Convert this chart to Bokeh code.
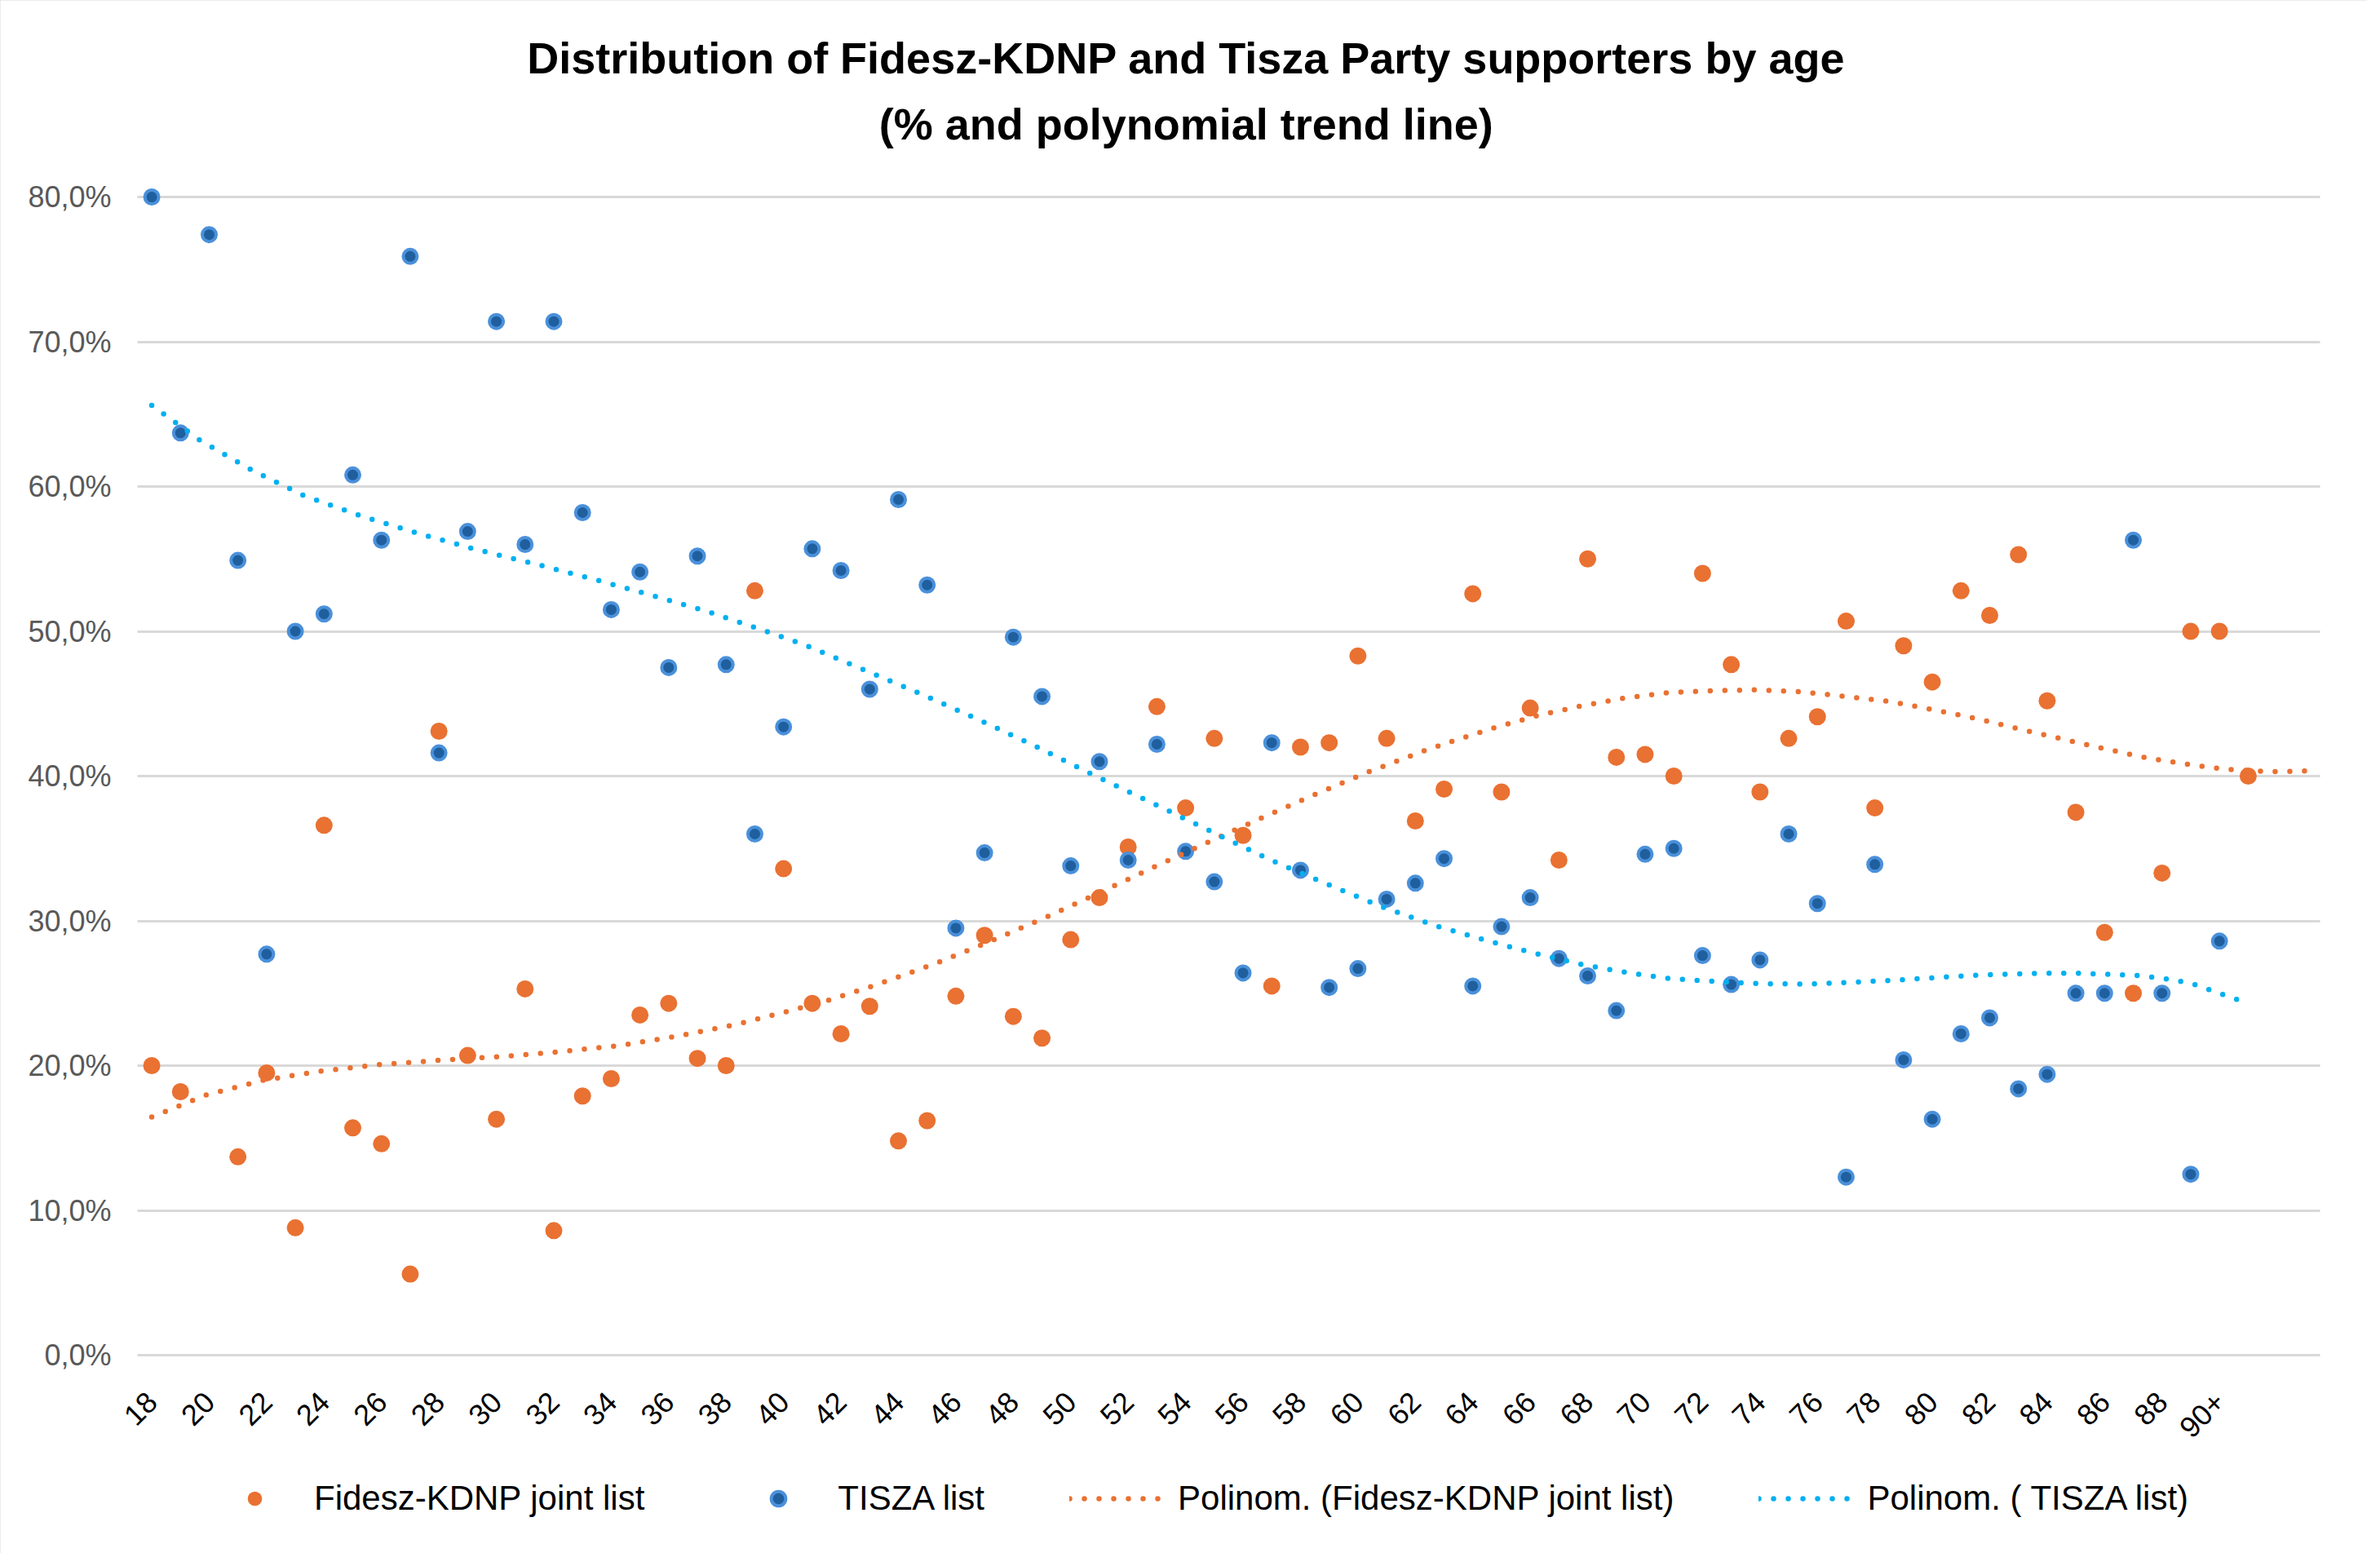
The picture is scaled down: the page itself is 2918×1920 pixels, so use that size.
import math
from bokeh.plotting import figure
from bokeh.models import ColumnDataSource, FixedTicker, Label, Legend, LegendItem, Range1d
from bokeh.embed import file_html
from bokeh.resources import INLINE

NAN = float("nan")

# x categories (index 0 = age 18); index 73 has no label
age_labels = [str(a) for a in range(18, 90)] + ["90+", ""]

# % of supporters
fidesz = [20.0, 18.2, NAN, 13.7, 19.5, 8.8, 36.6, 15.7, 14.6, 5.6,
          43.1, 20.7, 16.3, 25.3, 8.6, 17.9, 19.1, 23.5, 24.3, 20.5,
          20.0, 52.8, 33.6, 24.3, 22.2, 24.1, 14.8, 16.2, 24.8, 29.0,
          23.4, 21.9, 28.7, 31.6, 35.1, 44.8, 37.8, 42.6, 35.9, 25.5,
          42.0, 42.3, 48.3, 42.6, 36.9, 39.1, 52.6, 38.9, 44.7, 34.2,
          55.0, 41.3, 41.5, 40.0, 54.0, 47.7, 38.9, 42.6, 44.1, 50.7,
          37.8, 49.0, 46.5, 52.8, 51.1, 55.3, 45.2, 37.5, 29.2, 25.0,
          33.3, 50.0, 50.0, 40.0]

tisza = [80.0, 63.7, 77.4, 54.9, 27.7, 50.0, 51.2, 60.8, 56.3, 75.9,
         41.6, 56.9, 71.4, 56.0, 71.4, 58.2, 51.5, 54.1, 47.5, 55.2,
         47.7, 36.0, 43.4, 55.7, 54.2, 46.0, 59.1, 53.2, 29.5, 34.7,
         49.6, 45.5, 33.8, 41.0, 34.2, 42.2, 34.8, 32.7, 26.4, 42.3,
         33.5, 25.4, 26.7, 31.5, 32.6, 34.3, 25.5, 29.6, 31.6, 27.4,
         26.2, 23.8, 34.6, 35.0, 27.6, 25.6, 27.3, 36.0, 31.2, 12.3,
         33.9, 20.4, 16.3, 22.2, 23.3, 18.4, 19.4, 25.0, 25.0, 56.3,
         25.0, 12.5, 28.6]

# polynomial trend lines, sampled from the chart
fidesz_trend_x = [0, 1.9, 3.9, 6.0, 8.0, 10.1, 12.2, 14.2, 16.3, 18.3,
                  20.3, 22.3, 23.4, 25.3, 27.3, 29.2, 31.1, 32.9, 34.8, 36.7,
                  38.6, 40.5, 42.4, 44.3, 45.3, 46.8, 48.3, 49.8, 51.3, 52.8,
                  54.4, 55.9, 57.5, 59.0, 60.6, 62.1, 63.6, 65.1, 66.6, 67.6,
                  69.2, 70.7, 72.2, 73.8, 75.0]
fidesz_trend_y = [16.45, 17.97, 19.0, 19.65, 20.08, 20.38, 20.63, 20.96, 21.39, 22.03,
                  22.82, 23.83, 24.41, 25.63, 27.06, 28.59, 30.21, 31.85, 33.62, 35.36,
                  37.07, 38.72, 40.31, 41.74, 42.42, 43.37, 44.2, 44.86, 45.4, 45.76,
                  45.9, 45.96, 45.81, 45.5, 45.13, 44.56, 43.95, 43.22, 42.53, 42.07,
                  41.36, 40.86, 40.47, 40.3, 40.35]

tisza_trend_x = [0, 1.7, 3.5, 5.3, 7.3, 9.3, 11.3, 13.3, 15.3, 17.3,
                 19.3, 21.2, 22.7, 25.0, 26.9, 28.8, 30.7, 32.5, 34.4, 35.3,
                 37.2, 39.0, 40.9, 42.8, 44.8, 46.9, 48.4, 49.9, 51.4, 52.9,
                 54.5, 56.0, 57.6, 59.1, 60.7, 62.2, 63.8, 65.3, 66.9, 69.0,
                 70.0, 71.0, 72.0, 73.0]
tisza_trend_y = [65.61, 63.17, 61.12, 59.37, 57.96, 56.75, 55.65, 54.68, 53.65, 52.55,
                 51.4, 50.14, 49.09, 47.17, 45.58, 43.89, 42.13, 40.36, 38.55, 37.7,
                 35.88, 34.17, 32.56, 31.0, 29.6, 28.41, 27.64, 26.94, 26.42, 26.0,
                 25.81, 25.66, 25.63, 25.75, 25.9, 26.09, 26.27, 26.36, 26.39, 26.25,
                 26.04, 25.69, 25.0, 24.3]

y_ticks = [0, 10, 20, 30, 40, 50, 60, 70, 80]
x_lo, x_hi = -0.5, 75.5   # category band of the plot area

ORANGE = "#E97132"
BLUE_CORE = "#1F5F9E"
BLUE_RING = "#4A90DA"
LIGHT_BLUE = "#00B0F0"
GRID = "#D9D9D9"
FONT = "Liberation Sans"

src_f = ColumnDataSource(dict(x=list(range(len(fidesz))), y=fidesz))
src_t = ColumnDataSource(dict(x=list(range(len(tisza))), y=tisza))

# the frame covers the whole page; the 0..80 % x category band is the plot area,
# the rest holds the title, the axis labels and the legend
p = figure(width=2902, height=1904, x_range=Range1d(-5.27, 77.15), y_range=Range1d(-13.69, 93.58),
           output_backend="svg", toolbar_location=None,
           min_border_left=0, min_border_right=0, min_border_top=0, min_border_bottom=0)

p.outline_line_color = None
p.background_fill_color = "white"
p.border_fill_color = "white"
p.styles = {"outline": "4px solid #D9D9D9", "outline-offset": "-4px"}

for txt, ty in [("Distribution of Fidesz-KDNP and Tisza Party supporters by age", 89.58),
                ("(% and polynomial trend line)", 85.07)]:
    p.add_layout(Label(x=36.02, y=ty, text=txt, text_align="center", text_baseline="middle",
                       text_font=FONT, text_font_size="54px", text_font_style="bold",
                       text_color="#000000"))

# horizontal grid, limited to the plot area
grid = p.ygrid[0]
grid.ticker = FixedTicker(ticks=y_ticks)
if "cross_bounds" in grid.properties():
    grid.cross_bounds = (x_lo, x_hi)
    grid.grid_line_color = GRID
    grid.grid_line_width = 3
else:
    grid.grid_line_color = None
    p.segment(x0=[x_lo] * len(y_ticks), x1=[x_hi] * len(y_ticks), y0=y_ticks, y1=y_ticks,
              line_color=GRID, line_width=3)
p.xgrid.grid_line_color = None

r_f = p.scatter("x", "y", source=src_f, size=21, fill_color=ORANGE, line_color=None)
r_t = p.scatter("x", "y", source=src_t, size=17, fill_color=BLUE_CORE,
                line_color=BLUE_RING, line_width=4)
r_ft = p.line(fidesz_trend_x, fidesz_trend_y, line_color=ORANGE, line_width=6.5,
              line_dash="0 18", line_cap="round")
r_tt = p.line(tisza_trend_x, tisza_trend_y, line_color=LIGHT_BLUE, line_width=6.5,
              line_dash="0 18", line_cap="round")

# axes
p.yaxis.fixed_location = x_lo
p.yaxis.ticker = FixedTicker(ticks=y_ticks)
p.yaxis.major_label_overrides = {v: f"{v},0%" for v in y_ticks}
p.yaxis.axis_line_color = None
p.yaxis.major_tick_line_color = None
p.yaxis.minor_tick_line_color = None
p.yaxis.major_label_text_font = FONT
p.yaxis.major_label_text_font_size = "36px"
p.yaxis.major_label_text_color = "#595959"
p.yaxis.major_label_standoff = 26

x_ticks = list(range(0, 73, 2))
p.xaxis.fixed_location = 0
p.xaxis.ticker = FixedTicker(ticks=x_ticks)
p.xaxis.major_label_overrides = {i: age_labels[i] for i in x_ticks}
p.xaxis.axis_line_color = None
p.xaxis.major_tick_line_color = None
p.xaxis.minor_tick_line_color = None
p.xaxis.major_label_text_font = FONT
p.xaxis.major_label_text_font_size = "36px"
p.xaxis.major_label_text_color = "#000000"
p.xaxis.major_label_orientation = math.pi / 4
p.xaxis.major_label_standoff = 45

legend = Legend(items=[
    LegendItem(label="Fidesz-KDNP joint list", renderers=[r_f]),
    LegendItem(label="TISZA list", renderers=[r_t]),
    LegendItem(label="Polinom. (Fidesz-KDNP joint list)", renderers=[r_ft]),
    LegendItem(label="Polinom. ( TISZA list)", renderers=[r_tt]),
], orientation="horizontal", location=(252, 43))
legend.glyph_width = 120
legend.glyph_height = 44
legend.label_standoff = 13
legend.spacing = 104
legend.label_text_font = FONT
legend.label_text_font_size = "42px"
legend.label_text_color = "#000000"
legend.border_line_color = None
legend.background_fill_alpha = 0
legend.padding = 10
legend.margin = 0
p.add_layout(legend, "center")

open("out.html", "w").write(file_html(p, INLINE))
